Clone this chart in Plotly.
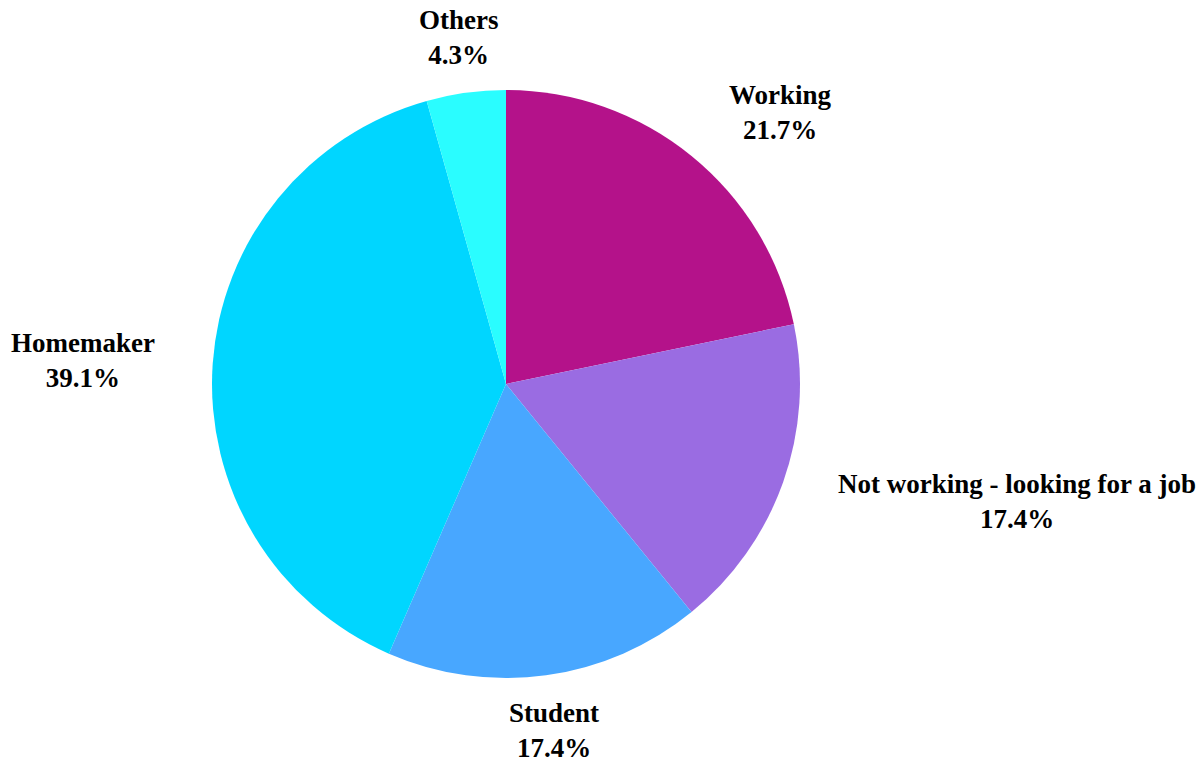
import math
import plotly.graph_objects as go

categories = ["Working", "Not working - looking for a job", "Student", "Homemaker", "Others"]
counts = [5, 4, 4, 9, 1]
colors = ["#B4128A", "#9A6CE2", "#48A7FF", "#00D6FF", "#2AFDFF"]

fig = go.Figure(
    go.Pie(
        labels=categories,
        values=counts,
        sort=False,
        direction="clockwise",
        rotation=0,
        marker=dict(colors=colors, line=dict(width=0)),
        textinfo="none",
        showlegend=False,
        hoverinfo="label+percent",
    )
)

# Outside labels placed around the pie at each slice's mid-angle
total = sum(counts)
label_radius = 1.19  # relative to pie radius
cum = 0
for name, v in zip(categories, counts):
    mid = (cum + v / 2) / total * 2 * math.pi  # clockwise from 12 o'clock
    cum += v
    s, c = math.sin(mid), math.cos(mid)
    x = 0.5 + 0.5 * label_radius * s
    y = 0.5 + 0.5 * label_radius * c
    if abs(s) < 0.3:
        xanchor = "center"
    elif s > 0:
        xanchor = "left"
    else:
        xanchor = "right"
    pct = v / total * 100
    fig.add_annotation(
        x=x, y=y, xref="paper", yref="paper",
        xanchor=xanchor, yanchor="middle", align="center",
        text=f"<b>{name}</b><br><b>{pct:.1f}%</b>",
        showarrow=False,
        font=dict(family="Liberation Serif", size=27, color="black"),
    )

fig.update_layout(
    width=1203,
    height=765,
    margin=dict(l=212, r=403, t=90, b=87, autoexpand=False),
    paper_bgcolor="white",
    plot_bgcolor="white",
)

fig.write_html("out.html")
